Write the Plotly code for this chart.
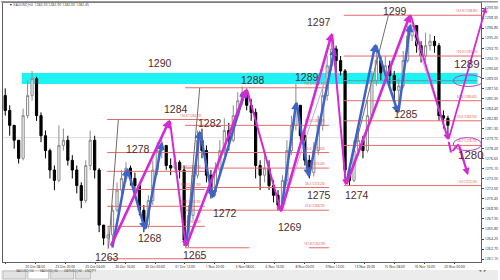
import plotly.graph_objects as go

# ---------------- data ----------------
open0 = 1286.4
close = [1284.1, 1281.8, 1279.5, 1276.7, 1283.3, 1286.4, 1289.0, 1283.3, 1280.2, 1277.9,
         1274.9, 1273.3, 1278.7, 1279.5, 1276.4, 1274.9, 1272.5, 1270.2, 1275.6, 1279.5,
         1274.9, 1266.4, 1264.4, 1264.9, 1268.7, 1271.8, 1273.6, 1275.2, 1273.6, 1272.5,
         1268.7, 1266.4, 1270.2, 1274.9, 1277.9, 1278.7, 1275.6, 1275.2, 1276.1, 1274.9,
         1264.1, 1267.9, 1274.1, 1279.5, 1277.9, 1274.1, 1271.5, 1274.9, 1277.9, 1281.0,
         1279.5, 1283.3, 1285.6, 1286.9, 1284.9, 1283.8, 1275.6, 1274.1, 1275.2, 1272.5,
         1271.0, 1269.5, 1273.3, 1277.9, 1281.8, 1284.9, 1280.2, 1276.4, 1274.5, 1277.9,
         1281.8, 1286.4, 1291.0, 1293.6, 1291.8, 1290.2, 1274.9, 1273.3, 1277.9, 1279.5,
         1277.9, 1283.3, 1288.7, 1291.8, 1289.9, 1291.0, 1289.5, 1287.2, 1287.9, 1291.8,
         1295.6, 1297.2, 1294.1, 1292.5, 1294.1, 1294.8, 1294.1, 1283.3, 1282.9, 1281.8]
high = [1287.5, 1284.9, 1281.8, 1279.5, 1284.4, 1288.7, 1290.2, 1289.3, 1283.8, 1281.0,
        1278.2, 1275.6, 1281.8, 1281.3, 1280.2, 1277.2, 1275.6, 1273.0, 1276.4, 1281.0,
        1280.2, 1275.2, 1266.4, 1266.2, 1269.5, 1273.0, 1274.9, 1276.1, 1275.6, 1274.5,
        1272.5, 1269.5, 1271.0, 1276.4, 1279.2, 1279.8, 1278.7, 1276.7, 1277.2, 1276.4,
        1275.6, 1269.5, 1275.6, 1281.0, 1281.3, 1278.7, 1274.9, 1276.1, 1279.5, 1282.9,
        1282.2, 1284.9, 1286.9, 1287.8, 1287.5, 1285.9, 1284.4, 1276.4, 1277.2, 1276.4,
        1273.3, 1271.8, 1274.1, 1279.5, 1283.3, 1288.2, 1284.9, 1281.0, 1277.2, 1279.2,
        1283.3, 1287.9, 1292.5, 1294.8, 1294.1, 1292.5, 1290.5, 1275.6, 1279.5, 1281.3,
        1280.2, 1285.6, 1290.2, 1294.1, 1292.5, 1292.5, 1291.8, 1290.2, 1289.0, 1293.3,
        1297.2, 1297.9, 1296.4, 1294.8, 1296.1, 1295.9, 1295.6, 1294.5, 1284.1, 1283.3]
low = [1283.3, 1280.2, 1278.2, 1275.9, 1276.4, 1282.9, 1285.6, 1282.5, 1279.2, 1276.7,
       1273.6, 1271.8, 1273.0, 1277.9, 1275.6, 1273.6, 1271.3, 1269.0, 1269.8, 1274.9,
       1273.6, 1265.3, 1263.3, 1262.7, 1264.1, 1268.4, 1271.0, 1273.0, 1272.5, 1271.5,
       1267.9, 1265.3, 1265.9, 1269.5, 1274.1, 1276.7, 1274.9, 1274.1, 1274.5, 1273.6,
       1263.2, 1263.0, 1267.2, 1273.6, 1276.7, 1273.0, 1270.5, 1270.9, 1274.1, 1277.2,
       1277.9, 1279.2, 1282.9, 1284.9, 1284.1, 1282.5, 1273.6, 1271.8, 1273.0, 1271.8,
       1269.9, 1268.7, 1268.7, 1272.5, 1277.2, 1281.0, 1279.5, 1275.6, 1273.6, 1273.9,
       1277.2, 1281.0, 1285.6, 1290.2, 1289.9, 1289.5, 1273.6, 1272.5, 1273.0, 1277.2,
       1276.7, 1277.6, 1282.9, 1287.9, 1288.7, 1288.7, 1287.9, 1285.6, 1283.8, 1287.5,
       1291.5, 1294.8, 1293.0, 1291.5, 1291.8, 1293.3, 1293.0, 1282.5, 1281.3, 1280.5]
opens = [open0] + close[:-1]
bar_idx = list(range(len(close)))

# date labels on the time axis
date_pos = [0, 6.7, 13.4, 20.1, 26.8, 33.5, 40.2, 46.9, 53.6, 60.3, 67.0, 73.7, 80.4, 87.1, 93.8, 100.5]
date_txt = ["18 Oct 2017", "20 Oct 08:00", "23 Oct 20:00", "25 Oct 04:00", "26 Oct 16:00",
            "30 Oct 00:00", "31 Oct 12:00", "1 Nov 20:00", "3 Nov 08:00", "6 Nov 16:00",
            "8 Nov 00:00", "9 Nov 12:00", "13 Nov 20:00", "15 Nov 08:00", "16 Nov 16:00",
            "20 Nov 00:00"]

price_ticks = [1299.90, 1298.35, 1296.80, 1295.25, 1293.70, 1292.15, 1290.60, 1289.05,
               1287.50, 1285.95, 1284.40, 1282.85, 1281.30, 1279.75, 1278.20, 1276.65,
               1275.10, 1273.55, 1272.00, 1270.45, 1268.90, 1267.35, 1265.80, 1264.25,
               1262.70, 1261.15]

# resistance zone
zone_start, zone_end = 3.7, 105.6
zone_lo, zone_hi = 1288.2, 1289.9
zone_mid_price = 1288.7
zone_mid_start = 75.7

# fibonacci levels: start bar, end bar, price, level ("" = no caption)
fib_start = [22.8, 22.8, 22.8, 22.8, 22.8, 22.8, 22.8,
             40.2, 40.2, 40.2, 40.2, 40.2, 40.2, 67.9,
             75.7, 75.7, 75.7, 75.7, 75.7, 75.7]
fib_end = [44.6, 72.4, 44.6, 44.6, 44.6, 44.6, 44.6,
           72.4, 72.4, 72.4, 72.4, 72.4, 54.6, 72.4,
           106.4, 106.4, 106.4, 106.4, 106.4, 106.4]
fib_price = [1282.7, 1277.6, 1274.7, 1271.9, 1269.3, 1266.2, 1261.2,
             1287.6, 1281.8, 1275.2, 1272.2, 1268.7, 1262.9, 1262.9,
             1298.8, 1292.5, 1285.6, 1282.5, 1278.7, 1272.5]
fib_level = ["100.0", "76.4", "61.8", "50.0", "38.2", "23.6", "",
             "100.0", "61.8", "50.0", "38.2", "23.6", "", "161.8",
             "161.8", "100.0", "61.8", "50.0", "38.2", "0.0"]

# faint reference line
ref_price = 1279.9

# swing zigzags (bar, price)
mag_bar = [23.5, 36.8, 40.4, 54.0, 61.7, 73.1, 76.2, 90.6, 99.1]
mag_price = [1263.0, 1282.7, 1263.0, 1287.5, 1268.4, 1296.1, 1272.5, 1299.0, 1279.5]
mag_tail_bar = [99.1, 99.7, 101.4]
mag_tail_price = [1279.5, 1277.6, 1278.9]
mag_drop_bar, mag_drop_price = 103.5, 1274.1
mag_up_bar, mag_up_price = 107.5, 1300.1

blue_legs = [
    ([23.9, 27.3, 31.3, 35.1], [1262.7, 1275.2, 1265.6, 1279.3]),
    ([40.4, 43.5, 46.4, 53.7], [1263.0, 1281.0, 1270.5, 1287.3]),
    ([61.7, 65.1, 67.9, 73.7], [1268.4, 1285.5, 1273.8, 1293.8]),
    ([76.2, 82.8, 87.9, 90.6], [1272.5, 1294.4, 1283.6, 1297.5]),
]

anchor_bar = [(23.1, 25.3), (40.4, 43.5), (76.2, 85.7)]
anchor_price = [(1262.9, 1282.7), (1263.0, 1287.6), (1272.9, 1298.8)]

pale_bar = [(54.0, 61.7), (90.6, 97.5), (61.7, 73.1)]
pale_price = [(1287.5, 1268.4), (1297.5, 1283.0), (1268.4, 1292.0)]

lbl_text = ["1290", "1284", "1278", "1282", "1288", "1289", "1297", "1299", "1285",
            "1268", "1272", "1275", "1274", "1269", "1265", "1263"]
lbl_bar = [34.6, 38.2, 29.7, 45.7, 55.5, 67.5, 70.2, 87.1, 89.6,
           32.4, 49.1, 70.2, 78.6, 63.7, 42.4, 22.8]
lbl_price = [1291.5, 1284.3, 1278.2, 1282.2, 1288.8, 1289.2, 1297.8, 1299.5, 1283.6,
             1264.4, 1268.2, 1271.1, 1271.0, 1266.1, 1261.8, 1261.4]
big_lbl_text = ["1289", "1280"]
big_lbl_bar = [103.3, 104.2]
big_lbl_price = [1291.3, 1277.2]

ellipse_bar = [(100.2, 106.9), (100.2, 106.5)]
ellipse_price = [(1287.8, 1289.6), (1277.9, 1279.9)]

tabs = ["XAUUSD,H4", "XAUUSD,H4", "GBPUSD,H4", "USDJPY"]

# ---------------- figure ----------------
W, H = 500, 280
ML, MR, MT, MB = 2, 17, 2, 18
PW, PH = W - ML - MR, H - MT - MB

def px(xp):
    return (xp - ML) / PW

def py(yp):
    return (H - MB - yp) / PH

fig = go.Figure()
fig.add_trace(go.Candlestick(
    x=bar_idx, open=opens, high=high, low=low, close=close,
    increasing=dict(line=dict(color="#8c8c8c", width=1), fillcolor="#f4f4f4"),
    decreasing=dict(line=dict(color="#000000", width=1), fillcolor="#000000"),
    whiskerwidth=0, showlegend=False, hoverinfo="skip"))

shapes = []
ann = []

shapes.append(dict(type="line", xref="paper", yref="y", x0=0, x1=1, y0=ref_price, y1=ref_price,
                   line=dict(color="#dcdcdc", width=1), layer="below"))
shapes.append(dict(type="rect", xref="x", yref="y", x0=zone_start, x1=zone_end, y0=zone_lo, y1=zone_hi,
                   fillcolor="#1ff2f2", line=dict(width=0), layer="below"))
shapes.append(dict(type="line", xref="x", yref="y", x0=zone_mid_start, x1=zone_end,
                   y0=zone_mid_price, y1=zone_mid_price, line=dict(color="#5f9ea8", width=1)))

for s, e, p, lv in zip(fib_start, fib_end, fib_price, fib_level):
    shapes.append(dict(type="line", xref="x", yref="y", x0=s, x1=e, y0=p, y1=p,
                       line=dict(color="#e46a6a", width=1)))
    if lv:
        ann.append(dict(x=e - 0.4, y=p, xref="x", yref="y", text=f"{lv} ({p:.2f})", showarrow=False,
                        xanchor="right", yanchor="bottom", font=dict(size=3, color="#e04040")))

for (b0, b1), (p0, p1) in zip(anchor_bar, anchor_price):
    shapes.append(dict(type="line", xref="x", yref="y", x0=b0, x1=b1, y0=p0, y1=p1,
                       line=dict(color="#7a6a6a", width=1)))
for (b0, b1), (p0, p1) in zip(pale_bar, pale_price):
    shapes.append(dict(type="line", xref="x", yref="y", x0=b0, x1=b1, y0=p0, y1=p1,
                       line=dict(color="#c9a3e0", width=1)))

def arrow(b0, p0, b1, p1, color, width, head=2):
    ann.append(dict(x=b1, y=p1, ax=b0, ay=p0, xref="x", yref="y", axref="x", ayref="y",
                    text="", showarrow=True, arrowhead=head, arrowsize=0.65,
                    arrowwidth=width, arrowcolor=color))

for bars, prices in blue_legs:
    for k in range(len(bars) - 1):
        arrow(bars[k], prices[k], bars[k + 1], prices[k + 1], "#3f63c8", 2.5)

for k in range(len(mag_bar) - 1):
    w = 2.6 if mag_price[k + 1] > mag_price[k] else 2.0
    arrow(mag_bar[k], mag_price[k], mag_bar[k + 1], mag_price[k + 1], "#d42ad4", w)
for k in range(len(mag_tail_bar) - 1):
    arrow(mag_tail_bar[k], mag_tail_price[k], mag_tail_bar[k + 1], mag_tail_price[k + 1], "#d42ad4", 2.0, head=0)
arrow(mag_tail_bar[-1], mag_tail_price[-1], mag_drop_bar, mag_drop_price, "#d42ad4", 2.2)
arrow(mag_bar[-1], mag_price[-1], mag_up_bar, mag_up_price, "#d42ad4", 1.8)

for (b0, b1), (p0, p1) in zip(ellipse_bar, ellipse_price):
    shapes.append(dict(type="circle", xref="x", yref="y", x0=b0, x1=b1, y0=p0, y1=p1,
                       line=dict(color="#b040c8", width=1)))

for t, b, p in zip(lbl_text, lbl_bar, lbl_price):
    ann.append(dict(x=b, y=p, xref="x", yref="y", text=t, showarrow=False,
                    font=dict(size=10.5, color="#4e2c2c", family="Liberation Sans, Arial")))
for t, b, p in zip(big_lbl_text, big_lbl_bar, big_lbl_price):
    ann.append(dict(x=b, y=p, xref="x", yref="y", text=t, showarrow=False,
                    font=dict(size=11.5, color="#5a2a2a", family="Liberation Sans, Arial")))

# window title strip
shapes.append(dict(type="rect", xref="paper", yref="paper", x0=px(0), x1=px(W), y0=py(1.5), y1=py(0),
                   fillcolor="#9a9a9a", line=dict(width=0)))
ann.append(dict(x=px(6), y=py(4), xref="paper", yref="paper", xanchor="left", yanchor="middle",
                text="▼ XAUUSD,H4  1282.33 1282.90 1282.00 1282.45", showarrow=False,
                font=dict(size=3.5, color="#303030")))

# tab strip
shapes.append(dict(type="rect", xref="paper", yref="paper", x0=px(0), x1=px(W), y0=py(H), y1=py(270),
                   fillcolor="#ececec", line=dict(width=0)))
tab_x = [(2, 25), (27, 48), (50, 73), (75, 90)]
for i, ((a, b), t) in enumerate(zip(tab_x, tabs)):
    shapes.append(dict(type="rect", xref="paper", yref="paper", x0=px(a), x1=px(b), y0=py(279), y1=py(271),
                       fillcolor="#ffffff" if i == 1 else "#e2e2e2", line=dict(color="#a8a8a8", width=0.6)))
    ann.append(dict(x=px((a + b) / 2), y=py(275), xref="paper", yref="paper", text=t, showarrow=False,
                    font=dict(size=3.2, color="#404040")))
ann.append(dict(x=px(491), y=py(275), xref="paper", yref="paper", text="◄ ►", showarrow=False,
                font=dict(size=4, color="#707070")))

fig.update_layout(
    width=W, height=H, margin=dict(l=ML, r=MR, t=MT, b=MB),
    paper_bgcolor="#ffffff", plot_bgcolor="#ffffff",
    shapes=shapes, annotations=ann, showlegend=False,
    xaxis=dict(range=[-0.5, 106.4], rangeslider=dict(visible=False), showgrid=False, zeroline=False,
               tickmode="array", tickvals=date_pos, ticktext=date_txt, ticks="outside", ticklen=1,
               tickfont=dict(size=3.4, color="#202020"), showline=True, linecolor="#606060",
               linewidth=1, mirror=True, tickangle=0),
    yaxis=dict(range=[1260.7, 1300.69], side="right", showgrid=False, zeroline=False,
               tickmode="array", tickvals=price_ticks, ticktext=[f"{v:.2f}" for v in price_ticks],
               ticks="outside", ticklen=2, tickfont=dict(size=3.6, color="#202020"),
               showline=True, linecolor="#606060", linewidth=1, mirror=True),
)

fig.write_html("out.html")
